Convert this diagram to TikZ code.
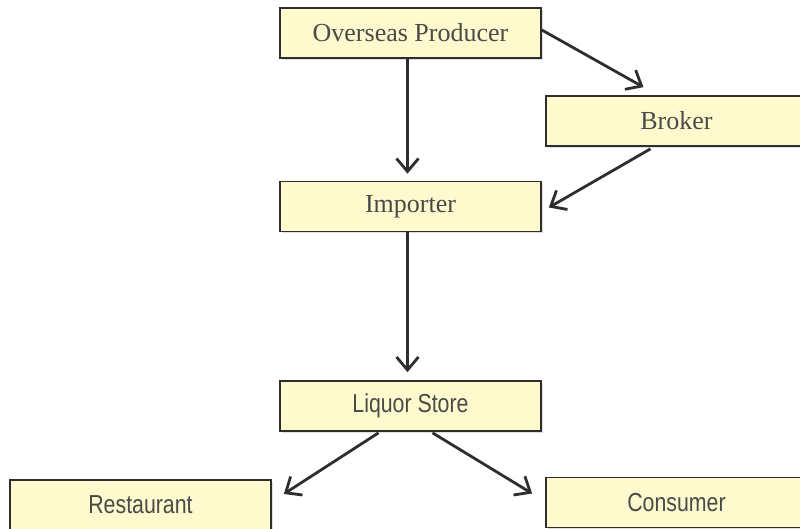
\documentclass[tikz,border=0pt]{standalone}
\usepackage{fontspec}
\setmainfont{Liberation Serif}
\newfontfamily\narrowsans[FakeStretch=0.82]{Liberation Sans}
\usepackage{tikz}
\usetikzlibrary{arrows.meta,calc,shadows}

\definecolor{boxfill}{HTML}{FFFACD}
\definecolor{boxline}{HTML}{2E2E2E}
\definecolor{boxtext}{HTML}{4A4A4A}

\tikzset{
  box/.style={draw=boxline, line width=0.85pt, fill=boxfill,
    minimum width=130.5pt, minimum height=25pt, inner sep=0pt,
    text=boxtext, font=\fontsize{13}{15}\selectfont,
    drop shadow={shadow xshift=0.8pt, shadow yshift=-0.8pt, opacity=0.25}},
  narrowbox/.style={box, font=\narrowsans\fontsize{13}{15}\selectfont},
  arr/.style={draw=boxline, line width=1.4pt,
    -{Straight Barb[length=6.5pt,width=11pt,line width=1.4pt]}}
}

\begin{document}
\begin{tikzpicture}[x=0.5pt,y=-0.5pt]
  \useasboundingbox (0,0) rectangle (800,529);
  \clip (0,0) rectangle (800,529);

  \node[box] (prod) at (410.5,33) {Overseas Producer};
  \node[box] (broker) at (676.5,121) {Broker};
  \node[box] (imp) at (410.5,206.5) {Importer};
  \node[narrowbox] (store) at (410.5,406) {Liquor Store};
  \node[narrowbox] (rest) at (140.5,505) {Restaurant};
  \node[narrowbox] (cons) at (676.5,502.5) {Consumer};

  \draw[arr] ($(prod.south)+(-3,0)$) -- ($(imp.north)+(-3,-7)$);
  \draw[arr] ($(prod.east)+(0,-3)$) -- ($(broker.north)+(-33,-8)$);
  \draw[arr] ($(broker.south)+(-26,2)$) -- ($(imp.east)+(7,1)$);
  \draw[arr] ($(imp.south)+(-3,0)$) -- ($(store.north)+(-3,-8)$);
  \draw[arr] ($(store.south)+(-32,1)$) -- ($(rest.east)+(12,-11)$);
  \draw[arr] ($(store.south)+(22,1)$) -- ($(cons.west)+(-13,-9)$);
\end{tikzpicture}
\end{document}
